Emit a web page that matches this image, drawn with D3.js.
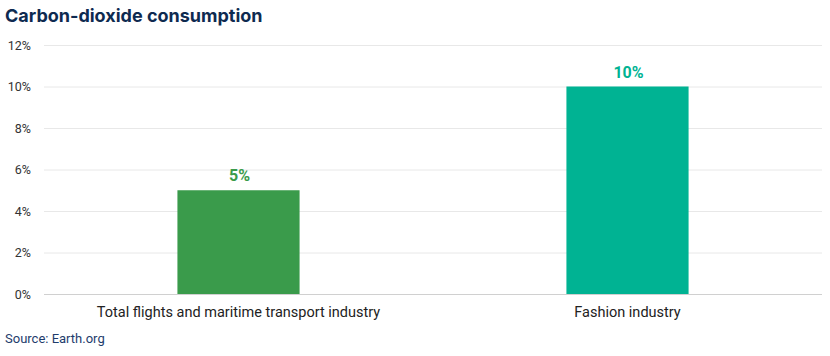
<!DOCTYPE html>
<html><head><meta charset="utf-8">
<script src="https://cdn.jsdelivr.net/npm/d3@7"></script>
<style>body{margin:0;background:#fff;}svg{display:block;font-family:Roboto, "Noto Sans", sans-serif;}</style>
</head><body>
<svg id="c" width="830" height="356"></svg>
<script>
const categories = ["Total flights and maritime transport industry", "Fashion industry"];
const values = [5, 10];
const valueLabels = ["5%", "10%"];
const colors = ["#3a9b4b", "#00b393"];
const yTicks = [0, 2, 4, 6, 8, 10, 12];
const title = "Carbon-dioxide consumption";
const source = "Source: Earth.org";

const svg = d3.select("#c");
const m = {l: 44, r: 8, t: 45, b: 62};
const W = 830, H = 356;
const x = d3.scaleBand().domain(categories).range([m.l, W - m.r]).paddingInner(0.686).paddingOuter(0.343);
const y = d3.scaleLinear().domain([0, 12]).range([H - m.b, m.t]);

svg.append("text").attr("x", 5).attr("y", 22).text(title)
  .attr("font-family", "Inter, Roboto, sans-serif")
  .attr("font-size", 18).attr("font-weight", 700).attr("fill", "#0e2a50");

const g = svg.append("g");
g.selectAll("line.grid").data(yTicks).join("line").attr("class", "grid")
  .attr("x1", m.l).attr("x2", W - m.r)
  .attr("y1", d => y(d) + 0.5).attr("y2", d => y(d) + 0.5)
  .attr("stroke", d => d === 0 ? "#d0d0d0" : "#e8e8e8").attr("stroke-width", 1);

g.selectAll("text.yt").data(yTicks).join("text").attr("class", "yt")
  .attr("x", 31).attr("y", d => y(d) + 4.5).attr("text-anchor", "end")
  .attr("font-size", 12.5).attr("fill", "#333").text(d => d + "%");

g.selectAll("rect").data(values).join("rect")
  .attr("x", (d, i) => x(categories[i])).attr("width", x.bandwidth())
  .attr("y", d => y(d)).attr("height", d => y(0) - y(d))
  .attr("fill", (d, i) => colors[i]);

g.selectAll("text.vl").data(values).join("text").attr("class", "vl")
  .attr("x", (d, i) => x(categories[i]) + x.bandwidth() / 2 + 1)
  .attr("y", d => y(d) - 9).attr("text-anchor", "middle")
  .attr("font-size", 16).attr("font-weight", 700)
  .attr("fill", (d, i) => colors[i]).text((d, i) => valueLabels[i]);

g.selectAll("text.cat").data(categories).join("text").attr("class", "cat")
  .attr("x", d => x(d) + x.bandwidth() / 2).attr("y", 317).attr("text-anchor", "middle")
  .attr("font-size", 14.5).attr("fill", "#222").text(d => d);

svg.append("text").attr("x", 5).attr("y", 343).text(source)
  .attr("font-size", 13).attr("fill", "#1e3c6c");
</script>
</body></html>
